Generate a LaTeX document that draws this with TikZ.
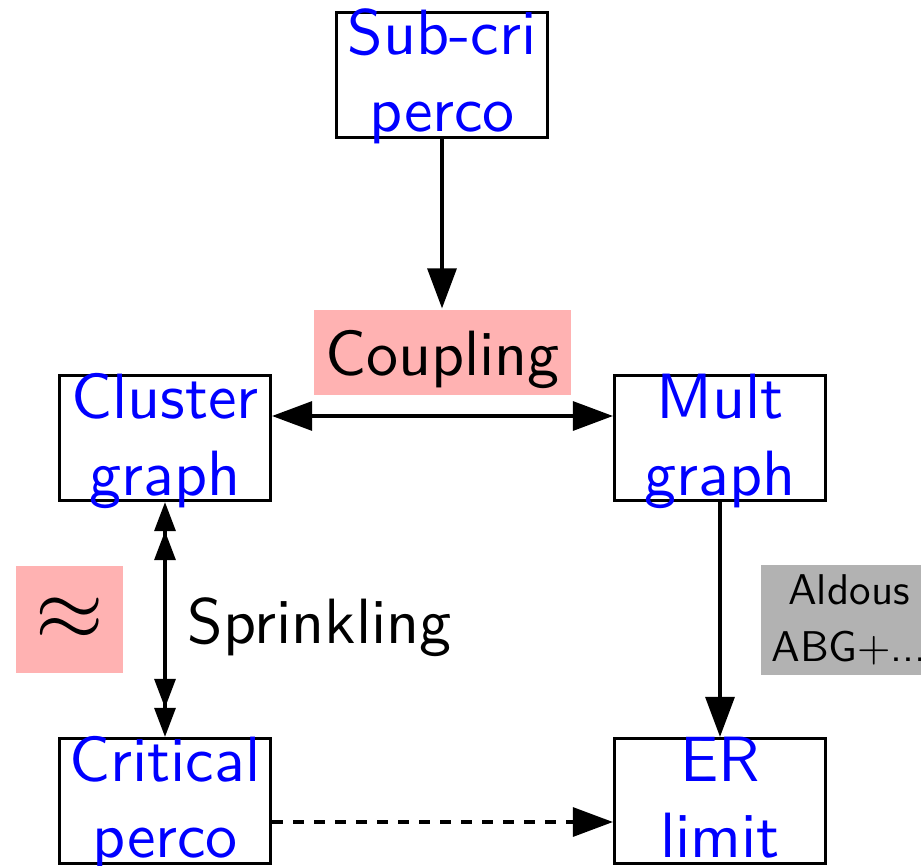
\RequirePackage{fix-cm}
\documentclass[tikz,border=0pt]{standalone}
\usepackage{fontspec}
\usetikzlibrary{arrows.meta}
% sans serif at its 10pt design size, scaled up
\newfontfamily\tensans{lmsans10-regular}[Extension=.otf]
\newcommand\diagfont{\tensans\fontsize{32pt}{38pt}\selectfont}
\newcommand\notefont{\tensans\fontsize{21.5pt}{28.5pt}\selectfont}
\begin{document}
\begin{tikzpicture}[x=0.5pt,y=-0.5pt,line width=1.6pt,
  box/.style={draw,rectangle,minimum width=105.5pt,minimum height=62.5pt,inner sep=0pt},
  boxtxt/.style={anchor=base,text=blue,font=\diagfont,inner sep=0pt},
  link/.style={-{Triangle[length=20pt,width=14.5pt]}},
  twoway/.style={{Triangle[length=20pt,width=14.5pt]}-{Triangle[length=20pt,width=14.5pt]}},
  sprinkle/.style={{Triangle[length=14.5pt,width=10.5pt,sep=0pt]Triangle[length=14.5pt,width=10.5pt]}-{Triangle[length=14.5pt,width=10.5pt,sep=0pt]Triangle[length=14.5pt,width=10.5pt]}},
  hint/.style={dash pattern=on 5.25pt off 5.25pt,-{Triangle[length=20pt,width=14.5pt]}}]
\useasboundingbox (0,0) rectangle (921,866);

% boxes
\node[box] (sub) at (442,75) {};
\node[box] (clu) at (165,438) {};
\node[box] (mul) at (720,438) {};
\node[box] (cri) at (165,801) {};
\node[box] (er)  at (720,801) {};

% box captions, two lines each
\node[boxtxt] (sub1) at ([yshift=10pt]sub.center) {Sub-cri};
\node[boxtxt] (sub2) at ([yshift=-28.5pt]sub.center) {perco};
\node[boxtxt] (clu1) at ([yshift=10pt]clu.center) {Cluster};
\node[boxtxt] (clu2) at ([yshift=-28.5pt]clu.center) {graph};
\node[boxtxt] (mul1) at ([yshift=10pt]mul.center) {Mult};
\node[boxtxt] (mul2) at ([yshift=-28.5pt]mul.center) {graph};
\node[boxtxt] (cri1) at ([yshift=9.75pt]cri.center) {Critical};
\node[boxtxt] (cri2) at ([yshift=-28.25pt]cri.center) {perco};
\node[boxtxt] (er1)  at ([yshift=9.75pt]er.center) {ER};
\node[boxtxt] (er2)  at ([yshift=-28.25pt]er.center) {limit};

% tags
\node[fill=red!30,minimum width=128.5pt,minimum height=42.5pt,inner sep=0pt,
      text height=32.5pt,text depth=10pt,font=\diagfont] (coup) at (442.5,352.5) {Coupling};
\node[fill=red!30,minimum size=53.5pt,inner sep=0pt] (approx) at (69.5,619.5)
      {\fontsize{44pt}{44pt}\selectfont$\approx$};
\node[anchor=base west,font=\diagfont,inner sep=0pt] (spr) at (186,643) {Sprinkling};
\node[fill=black!30,minimum width=88pt,minimum height=55pt,inner sep=0pt,
      align=center,font=\notefont] (ald) at (849,620) {Aldous\\ABG+...};

% connectors
\draw[link] (sub.south) -- (sub.south |- coup.north);
\draw[twoway] ([yshift=11pt]clu.east) -- ([yshift=11pt]mul.west);
\draw[sprinkle] (clu.south) -- (cri.north);
\draw[link] (mul.south) -- (er.north);
\draw[hint] ([yshift=-10.5pt]cri.east) -- ([yshift=-10.5pt]er.west);
\end{tikzpicture}
\end{document}
